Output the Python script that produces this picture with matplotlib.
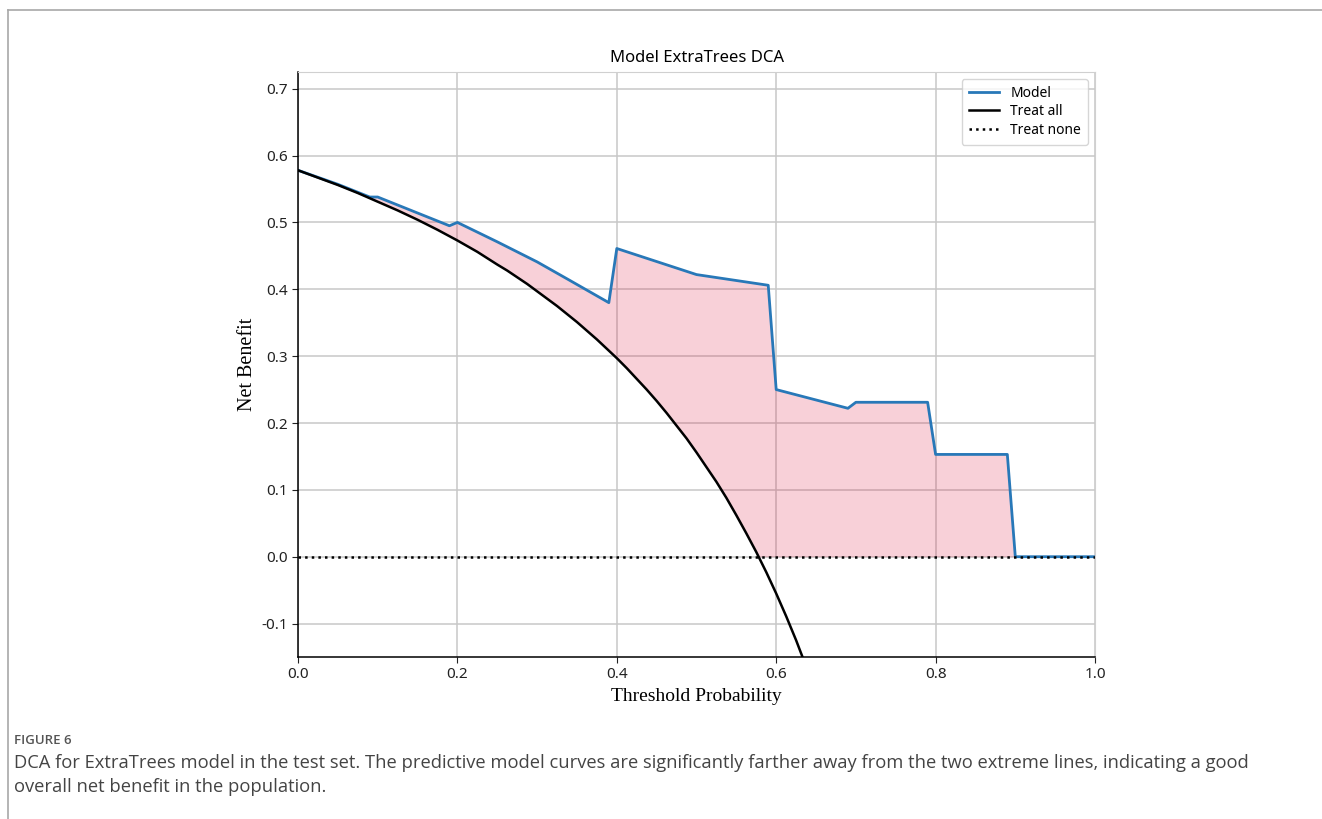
import numpy as np
import matplotlib
matplotlib.use("Agg")
import matplotlib.pyplot as plt
from matplotlib.lines import Line2D

# threshold grid + net benefit values
thresh_model = [0.0, 0.05, 0.09, 0.10, 0.19, 0.20, 0.25, 0.30, 0.34, 0.39, 0.40,
                0.50, 0.59, 0.60, 0.69, 0.70, 0.79, 0.80, 0.89, 0.90, 1.0]
nb_model = [0.578, 0.557, 0.538, 0.538, 0.495, 0.500, 0.471, 0.441, 0.414, 0.380, 0.461,
            0.422, 0.406, 0.250, 0.222, 0.231, 0.231, 0.153, 0.153, 0.0, 0.0]

thresh_all = [0.0, 0.025, 0.05, 0.075, 0.10, 0.125, 0.15, 0.175, 0.20, 0.225, 0.25,
              0.2625, 0.275, 0.2875, 0.30, 0.3125, 0.325, 0.3375, 0.35, 0.3625,
              0.375, 0.3875, 0.40, 0.4125, 0.425, 0.4375, 0.45, 0.4625, 0.475,
              0.4875, 0.50, 0.5125, 0.525, 0.5375, 0.55, 0.5625, 0.575, 0.5875,
              0.60, 0.6125, 0.625, 0.6375, 0.65]
nb_all = [0.578, 0.567, 0.556, 0.544, 0.531, 0.518, 0.504, 0.489, 0.473, 0.456, 0.437,
          0.428, 0.418, 0.408, 0.397, 0.386, 0.375, 0.363, 0.351, 0.338,
          0.325, 0.311, 0.297, 0.282, 0.266, 0.250, 0.233, 0.215, 0.196,
          0.177, 0.156, 0.134, 0.112, 0.088, 0.062, 0.035, 0.007, -0.023,
          -0.055, -0.089, -0.125, -0.164, -0.206]

thresh_none = [0.0, 1.0]
nb_none = [0.0, 0.0]

W, H = 1322, 819
fig = plt.figure(figsize=(W / 100, H / 100), dpi=100)

# page frame of the journal figure
fig.add_artist(Line2D([8 / W, 1.0], [1 - 10 / H, 1 - 10 / H], color="#a8a8a8", lw=1.2))
fig.add_artist(Line2D([8 / W, 8 / W], [1 - 10 / H, 0.0], color="#a8a8a8", lw=1.2))

ax = fig.add_axes([298 / W, 1 - 657 / H, (1095 - 298) / W, (657 - 72) / H])

# fill between model and max(treat all, treat none)
xx = np.linspace(0, 1, 1001)
m = np.interp(xx, thresh_model, nb_model)
a = np.interp(xx, thresh_all, nb_all)
lower = np.maximum(a, 0)
ax.fill_between(xx, m, lower, where=m >= lower, color="crimson", alpha=0.2, lw=0)

ax.plot(thresh_model, nb_model, color="#2878b8", lw=2, label="Model")
ax.plot(thresh_all, nb_all, color="black", lw=1.8, label="Treat all")
ax.plot(thresh_none, nb_none, color="black", lw=1.8, ls=":", label="Treat none")

ax.set_xlim(0, 1)
ax.set_ylim(-0.15, 0.725)
ax.set_xticks([0, 0.2, 0.4, 0.6, 0.8, 1.0])
ax.set_yticks([-0.1, 0, 0.1, 0.2, 0.3, 0.4, 0.5, 0.6, 0.7])
ax.set_xticklabels(["0.0", "0.2", "0.4", "0.6", "0.8", "1.0"])
ax.set_yticklabels(["-0.1", "0.0", "0.1", "0.2", "0.3", "0.4", "0.5", "0.6", "0.7"])
ax.grid(True, color="#c8c8c8", lw=1.1)
ax.set_axisbelow(True)
for s in ["top", "right"]:
    ax.spines[s].set_color("#d0d0d0")
for s in ["left", "bottom"]:
    ax.spines[s].set_color("black")
    ax.spines[s].set_linewidth(1.1)
ax.tick_params(labelsize=11, length=4, colors="#222222")
for lab in ax.get_xticklabels() + ax.get_yticklabels():
    lab.set_fontfamily("Noto Sans")

ax.set_title("Model ExtraTrees DCA", fontsize=12, family="Noto Sans", pad=7)
ax.set_xlabel("Threshold Probability", fontsize=14, family="Liberation Serif", labelpad=4)
ax.set_ylabel("Net Benefit", fontsize=14.5, family="Liberation Serif", labelpad=3)

leg = ax.legend(loc="upper right", prop={"family": "Noto Sans", "size": 10},
                frameon=True, fancybox=True, edgecolor="#cccccc", handlelength=2.2,
                borderpad=0.5, labelspacing=0.25)
leg.get_frame().set_linewidth(1.0)

# caption
fig.text(14 / W, 1 - 741 / H, "FIGURE 6", fontsize=9.5, family="Open Sans",
         color="#555555", va="center", ha="left", fontweight="semibold")
fig.text(14 / W, 1 - 763 / H,
         "DCA for ExtraTrees model in the test set. The predictive model curves are significantly "
         "farther away from the two extreme lines, indicating a good",
         fontsize=13.2, family="Open Sans", color="#444444", va="center", ha="left")
fig.text(14 / W, 1 - 787 / H, "overall net benefit in the population.",
         fontsize=13.2, family="Open Sans", color="#444444", va="center", ha="left")

fig.savefig("out.png", dpi=100)
